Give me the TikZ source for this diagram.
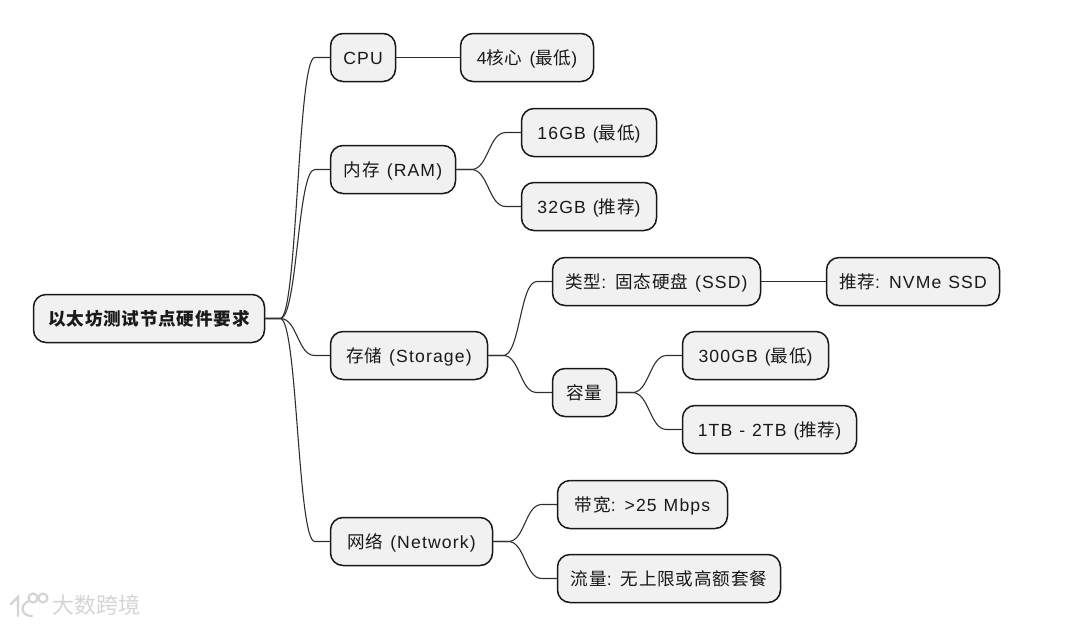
\documentclass[tikz,border=0pt]{standalone}
\usepackage{fontspec}
\usetikzlibrary{calc}
\setmainfont[LetterSpace=6.5,WordSpace=1.15]{Liberation Sans}
\newfontfamily\cjk[LetterSpace=4.5]{Noto Sans CJK SC}
\newfontfamily\markfont{Noto Sans CJK SC}
\newcommand{\zh}[1]{{\cjk #1}}
\definecolor{nodefill}{HTML}{F1F1F1}
\definecolor{nodeline}{HTML}{181818}
\definecolor{markgrey}{HTML}{D4D4D4}
\tikzset{
  box/.style={draw=nodeline,fill=nodefill,line width=1.5*0.75pt,rounded corners=12.5*0.75pt,
    minimum height=48*0.75pt,inner sep=0pt,text height=9.8pt,text depth=0pt,
    font=\fontsize{13.2pt}{16pt}\selectfont,text=black!90},
  bw/.style={minimum width=#1*0.75pt},
  link/.style={draw=nodeline!90,line width=1.1*0.75pt},
  markline/.style={draw=markgrey,line width=2.2*0.75pt,line cap=round}
}
\newcommand{\conn}[2]{\draw[link] let \p1=(#1.east), \p2=(#2.west), \n1={0.5*(\x1+\x2)} in
  (\p1) -- ++(15,0) .. controls (\n1,\y1) and (\n1,\y2) .. ($(\p2)+(-15,0)$) -- (\p2);}
\begin{document}
\begin{tikzpicture}[x=0.75pt,y=-0.75pt]
\useasboundingbox (0,0) rectangle (1080,626);
\begin{scope}[shift={(-0.5,0.5)}]
\node[box,bw=231,font=\fontsize{13.2pt}{16pt}\selectfont\bfseries] (root) at (149.5,318) {\zh{\bfseries 以太坊测试节点硬件要求}};
\node[box,bw=65] (cpu) at (363.5,57) {CPU};
\node[box,bw=133] (core) at (527.5,57) {4\zh{核心} (\zh{最低})};
\node[box,bw=125] (ram) at (393.5,169) {\zh{内存} (RAM)};
\node[box,bw=135] (r16) at (589.5,132) {16GB (\zh{最低})};
\node[box,bw=135] (r32) at (589.5,206) {32GB (\zh{推荐})};
\node[box,bw=157] (sto) at (409.5,355) {\zh{存储} (Storage)};
\node[box,bw=208] (typ) at (657,281) {\zh{类型}: \zh{固态硬盘} (SSD)};
\node[box,bw=173] (nvme) at (913.5,281) {\zh{推荐}: NVMe SSD};
\node[box,bw=64] (cap) at (585,392) {\zh{容量}};
\node[box,bw=146] (g300) at (756,355) {300GB (\zh{最低})};
\node[box,bw=174] (tb) at (770,429) {1TB - 2TB (\zh{推荐})};
\node[box,bw=162] (net) at (412,541) {\zh{网络} (Network)};
\node[box,bw=170] (band) at (643,504) {\zh{带宽}: >25 Mbps};
\node[box,bw=223] (flow) at (669.5,578) {\zh{流量}: \zh{无上限或高额套餐}};
\conn{root}{cpu}
\conn{root}{ram}
\conn{root}{sto}
\conn{root}{net}
\draw[link] (cpu.east) -- (core.west);
\conn{ram}{r16}
\conn{ram}{r32}
\conn{sto}{typ}
\conn{sto}{cap}
\draw[link] (typ.east) -- (nvme.west);
\conn{cap}{g300}
\conn{cap}{tb}
\conn{net}{band}
\conn{net}{flow}
\end{scope}
% watermark
\draw[markline] (11,604) -- (18,597) -- (18,616);
\draw[markline] (29,601) .. controls (20,604) and (20,616) .. (32,616);
\draw[markline] (33,598) circle (4.5);
\draw[markline] (43,598) circle (4.5);
\node[text=markgrey,inner sep=0pt,font=\fontsize{16.5pt}{18pt}\selectfont\markfont] (mark) at (96.5,605.5) {大数跨境};
\end{tikzpicture}
\end{document}
